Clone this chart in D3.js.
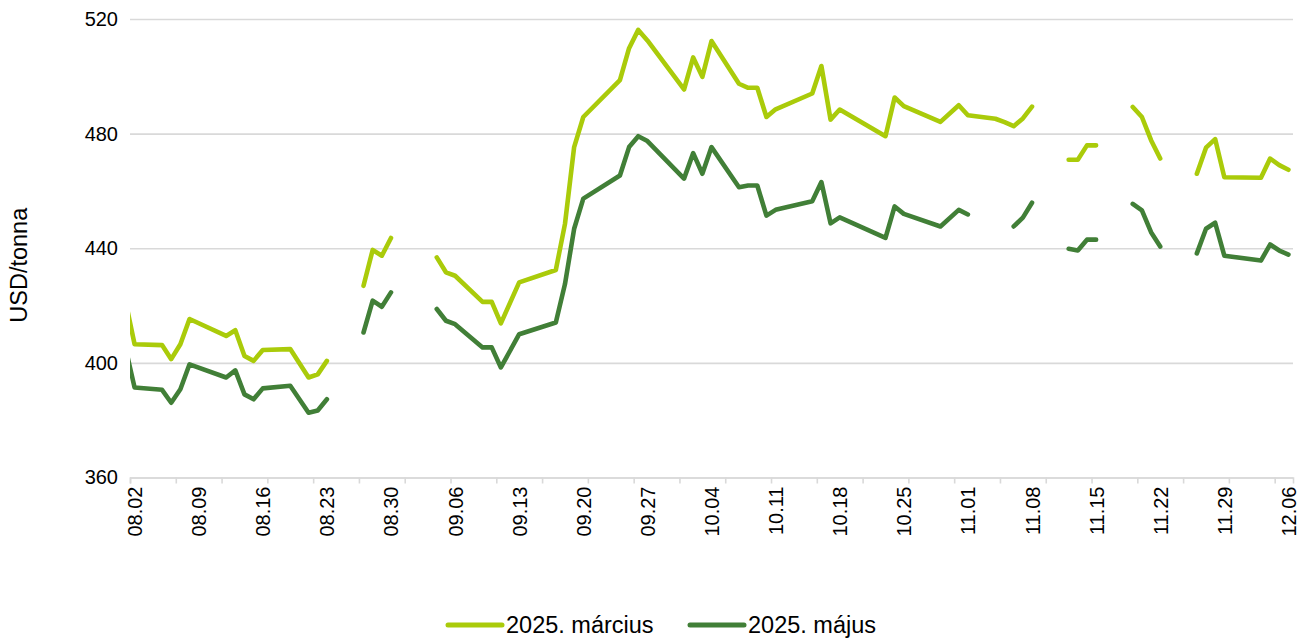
<!DOCTYPE html>
<html>
<head>
<meta charset="utf-8">
<script src="https://cdn.jsdelivr.net/npm/d3@7"></script>
<style>
  html, body { margin: 0; padding: 0; background: #fff; }
  svg { display: block; font-family: "Liberation Sans", Arial, sans-serif; }
</style>
</head>
<body>
<svg id="chart" width="1312" height="638"></svg>
<script>
// ---- Data ----
// null = gap in the line; dates not listed are bridged by the line.
const dates = [
  "2024-08-01","2024-08-02","2024-08-05","2024-08-06","2024-08-07","2024-08-08",
  "2024-08-12","2024-08-13","2024-08-14","2024-08-15","2024-08-16","2024-08-19",
  "2024-08-21","2024-08-22","2024-08-23","2024-08-26","2024-08-27","2024-08-28",
  "2024-08-29","2024-08-30","2024-09-02","2024-09-03","2024-09-04","2024-09-05",
  "2024-09-06","2024-09-09","2024-09-10","2024-09-11","2024-09-13","2024-09-17",
  "2024-09-18","2024-09-19","2024-09-20","2024-09-24","2024-09-25","2024-09-26",
  "2024-09-27","2024-10-01","2024-10-02","2024-10-03","2024-10-04","2024-10-07",
  "2024-10-08","2024-10-09","2024-10-10","2024-10-11","2024-10-15","2024-10-16",
  "2024-10-17","2024-10-18","2024-10-23","2024-10-24","2024-10-25","2024-10-29",
  "2024-10-31","2024-11-01","2024-11-04","2024-11-05","2024-11-06","2024-11-07",
  "2024-11-08","2024-11-11","2024-11-12","2024-11-13","2024-11-14","2024-11-15",
  "2024-11-18","2024-11-19","2024-11-20","2024-11-21","2024-11-22","2024-11-25",
  "2024-11-26","2024-11-27","2024-11-28","2024-11-29","2024-12-03","2024-12-04",
  "2024-12-05","2024-12-06"
];
const marchValues = [
  421.7, 406.5, 406.2, 401.3, 406.5, 415.3,
  409.4, 411.4, 402.4, 400.7, 404.5, 404.8,
  394.9, 396.0, 400.7, null, 426.9, 439.4,
  437.4, 443.6, null, null, 436.8, 431.6,
  430.4, 421.3, 421.3, 413.8, 428.1, 432.4,
  448.5, 475.3, 485.8, 498.7, 509.8, 516.2,
  512.5, 495.4, 506.6, 499.8, 512.3, 497.4,
  496.0, 496.0, 485.8, 488.5, 494.0, 503.6,
  484.9, 488.4, 479.1, 492.6, 489.6, 484.1,
  489.9, 486.4, 485.2, 484.0, 482.6, 485.3,
  489.4, null, 470.9, 470.9, 475.9, 475.9,
  null, 489.3, 485.8, 477.7, 471.3, null,
  466.0, 475.1, 478.1, 464.8, 464.6, 471.3,
  469.0, 467.4
];
const mayValues = [
  405.4, 391.4, 390.6, 386.1, 390.8, 399.5,
  394.9, 397.4, 389.0, 387.3, 391.1, 392.0,
  382.6, 383.4, 387.3, null, 410.6, 421.7,
  419.6, 424.6, null, null, 418.8, 414.7,
  413.5, 405.4, 405.4, 398.4, 410.0, 414.1,
  427.5, 446.8, 457.3, 465.4, 475.3, 479.1,
  477.4, 464.3, 473.2, 466.0, 475.3, 461.3,
  461.9, 461.9, 451.4, 453.4, 456.4, 463.1,
  448.7, 450.8, 443.6, 454.6, 452.0, 447.6,
  453.4, 451.8, null, null, 447.6, 450.7,
  455.9, null, 439.8, 439.2, 443.0, 443.0,
  null, 455.5, 453.2, 445.6, 440.6, null,
  438.2, 446.8, 448.9, 437.4, 435.7, 441.3,
  439.2, 437.8
];
const seriesNames = ["2025. március", "2025. május"];
const seriesColors = ["#aacb0a", "#417f37"];
const yTicks = [360, 400, 440, 480, 520];
const xLabelDates = ["2024-08-02","2024-08-09","2024-08-16","2024-08-23","2024-08-30",
  "2024-09-06","2024-09-13","2024-09-20","2024-09-27","2024-10-04","2024-10-11",
  "2024-10-18","2024-10-25","2024-11-01","2024-11-08","2024-11-15","2024-11-22",
  "2024-11-29","2024-12-06"];
const yTitle = "USD/tonna";

(function draw() {
  const svg = d3.select("#chart");
  const pL = 130, pR = 1293, pT = 19, pB = 477.5;
  const parse = d3.timeParse("%Y-%m-%d");
  const dayMs = 864e5;

  const domainStart = new Date(parse("2024-08-02").getTime() - dayMs / 2);
  const domainEnd = new Date(parse("2024-12-06").getTime() + dayMs / 2);
  const x = d3.scaleTime().domain([domainStart, domainEnd]).range([pL, pR]);
  const y = d3.scaleLinear().domain([360, 520]).range([pB, pT]);

  const fontSize = 20;
  const bigFont = 23.5;
  const ff = "Liberation Sans, Arial, sans-serif";

  // gridlines
  svg.append("g")
    .attr("transform", `translate(${pL},0)`)
    .call(d3.axisLeft(y).tickValues(yTicks).tickSize(-(pR - pL)).tickFormat(""))
    .call(g => g.select(".domain").remove())
    .call(g => g.selectAll("line").attr("stroke", "#d9d9d9").attr("stroke-width", 1.6));

  // y labels
  svg.append("g")
    .attr("transform", `translate(${pL},0)`)
    .call(d3.axisLeft(y).tickValues(yTicks).tickSize(0).tickPadding(12))
    .call(g => g.select(".domain").remove())
    .call(g => g.selectAll("text").attr("font-size", fontSize).attr("fill", "#000")
      .attr("font-family", ff));

  // x tick marks every 5 day-slots
  const tickBoundaries = d3.range(0, 26).map(k => new Date(domainStart.getTime() + k * 5 * dayMs));
  svg.append("g")
    .attr("transform", `translate(0,${pB})`)
    .call(d3.axisBottom(x).tickValues(tickBoundaries).tickSize(6).tickFormat(""))
    .call(g => g.select(".domain").attr("stroke", "#d9d9d9").attr("stroke-width", 1.6))
    .call(g => g.selectAll("line").attr("stroke", "#d9d9d9").attr("stroke-width", 1.6));

  // x labels, weekly, rotated
  const fmt = d3.timeFormat("%m.%d");
  svg.append("g")
    .attr("transform", `translate(0,${pB})`)
    .call(d3.axisBottom(x).tickValues(xLabelDates.map(parse)).tickSize(0).tickFormat(fmt))
    .call(g => g.select(".domain").remove())
    .call(g => g.selectAll("text")
      .attr("font-size", fontSize).attr("fill", "#000")
      .attr("font-family", ff)
      .attr("transform", "rotate(-90)")
      .attr("x", -9).attr("y", 0).attr("dy", "0.35em")
      .style("text-anchor", "end"));

  // clip
  svg.append("clipPath").attr("id", "plotclip")
    .append("rect").attr("x", pL).attr("y", 0).attr("width", pR - pL).attr("height", pB + 5);

  // lines
  const rows = dates.map((d, i) => ({ date: parse(d), v: [marchValues[i], mayValues[i]] }));
  const plot = svg.append("g").attr("clip-path", "url(#plotclip)");
  [0, 1].forEach(s => {
    const line = d3.line()
      .defined(d => d.v[s] != null)
      .x(d => x(d.date))
      .y(d => y(d.v[s]));
    plot.append("path")
      .datum(rows)
      .attr("fill", "none")
      .attr("stroke", seriesColors[s])
      .attr("stroke-width", 4.6)
      .attr("stroke-linejoin", "round")
      .attr("stroke-linecap", "round")
      .attr("d", line);
  });

  // y title
  svg.append("text")
    .attr("transform", `translate(27,${(pT + pB) / 2 + 17}) rotate(-90)`)
    .attr("text-anchor", "middle")
    .attr("font-size", bigFont)
    .attr("font-family", ff)
    .attr("fill", "#000")
    .text(yTitle);

  // legend
  const legendX = [448, 690];
  seriesNames.forEach((name, i) => {
    const g = svg.append("g").attr("transform", `translate(${legendX[i]},625)`);
    g.append("line").attr("x1", 0).attr("x2", 54).attr("y1", 0).attr("y2", 0)
      .attr("stroke", seriesColors[i]).attr("stroke-width", 5).attr("stroke-linecap", "round");
    g.append("text").attr("x", 58).attr("y", 0).attr("dy", "0.35em")
      .attr("font-size", bigFont).attr("font-family", ff).attr("fill", "#000").text(name);
  });
})();
</script>
</body>
</html>
